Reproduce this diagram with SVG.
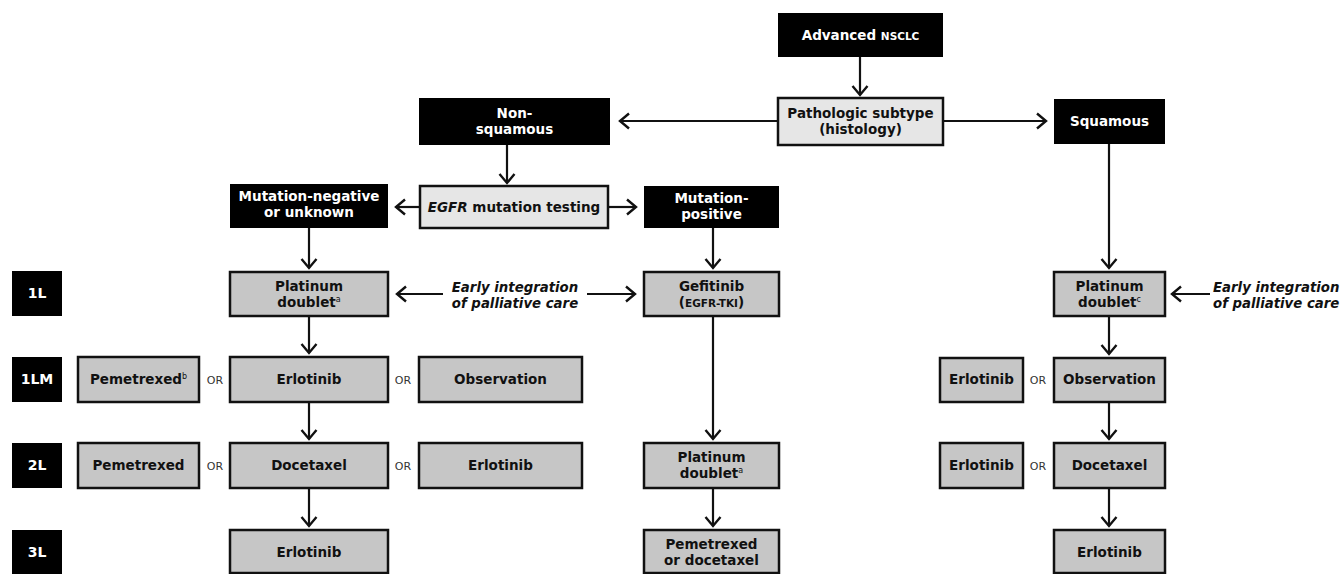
<svg xmlns="http://www.w3.org/2000/svg" width="1344" height="574" viewBox="0 0 1344 574">
<style>
.blk{fill:#000}
.lt{fill:#e6e6e6;stroke:#111;stroke-width:2.5}
.gr{fill:#c6c6c6;stroke:#111;stroke-width:2.5}
text{font-family:"DejaVu Sans","Verdana",sans-serif;font-weight:bold;font-size:13.5px;text-anchor:middle}
.w{fill:#fff}
.k{fill:#111}
.sc{font-size:10.5px}
.sup{font-size:8px;font-weight:normal}
.or{font-weight:normal;font-size:11px;fill:#333}
.it{font-style:italic;fill:#111;font-size:13.3px}
.lb{font-size:14px}
.ln{stroke:#111;stroke-width:2.2;fill:none}
</style>
<defs>
<marker id="ah" markerUnits="userSpaceOnUse" viewBox="-11 -10 13 20" refX="0" refY="0" markerWidth="13" markerHeight="20" orient="auto">
<path d="M-9,-7.5 L0,0 L-9,7.5" fill="none" stroke="#111" stroke-width="2.4"/>
</marker>
</defs>

<g id="connectors" class="ln" marker-end="url(#ah)">
<line x1="860" y1="57" x2="860" y2="95"/>
<line x1="778" y1="121" x2="620" y2="121"/>
<line x1="943" y1="121" x2="1046" y2="121"/>
<line x1="507" y1="145" x2="507" y2="183"/>
<line x1="420" y1="207" x2="396" y2="207"/>
<line x1="608" y1="207" x2="636" y2="207"/>
<line x1="309" y1="228" x2="309" y2="268"/>
<line x1="713" y1="228" x2="713" y2="268"/>
<line x1="1109" y1="144" x2="1109" y2="268"/>
<line x1="443" y1="294" x2="397" y2="294"/>
<line x1="587" y1="294" x2="635" y2="294"/>
<line x1="1210" y1="294" x2="1172" y2="294"/>
<line x1="309" y1="316" x2="309" y2="353"/>
<line x1="1109" y1="316" x2="1109" y2="354"/>
<line x1="309" y1="402" x2="309" y2="439"/>
<line x1="713" y1="316" x2="713" y2="439"/>
<line x1="1109" y1="402" x2="1109" y2="439"/>
<line x1="309" y1="488" x2="309" y2="526"/>
<line x1="713" y1="488" x2="713" y2="526"/>
<line x1="1109" y1="488" x2="1109" y2="526"/>
</g>

<g id="advanced"><rect class="blk" x="778" y="13" width="165" height="44"/><text class="w" x="860.5" y="40">Advanced <tspan class="sc">NSCLC</tspan></text></g>
<g id="pathologic"><rect class="lt" x="778" y="98" width="165" height="47"/><text class="k" x="860.5" y="118">Pathologic subtype</text><text class="k" x="860.5" y="134">(histology)</text></g>
<g id="nonsquamous"><rect class="blk" x="419" y="98" width="191" height="47"/><text class="w" x="514.5" y="118">Non-</text><text class="w" x="514.5" y="134">squamous</text></g>
<g id="squamous"><rect class="blk" x="1054" y="99" width="111" height="45"/><text class="w" x="1109.5" y="126">Squamous</text></g>
<g id="egfr"><rect class="lt" x="420" y="186" width="188" height="42"/><text class="k" x="514" y="212"><tspan font-style="italic">EGFR</tspan> mutation testing</text></g>
<g id="mutneg"><rect class="blk" x="230" y="184" width="158" height="44"/><text class="w" x="309" y="201">Mutation-negative</text><text class="w" x="309" y="217">or unknown</text></g>
<g id="mutpos"><rect class="blk" x="644" y="186" width="135" height="42"/><text class="w" x="711.5" y="203">Mutation-</text><text class="w" x="711.5" y="219">positive</text></g>

<g id="label-1L"><rect class="blk" x="12" y="271" width="50" height="45"/><text class="w lb" x="37" y="298">1L</text></g>
<g id="label-1LM"><rect class="blk" x="12" y="357" width="50" height="45"/><text class="w lb" x="37" y="384">1LM</text></g>
<g id="label-2L"><rect class="blk" x="12" y="443" width="50" height="45"/><text class="w lb" x="37" y="470">2L</text></g>
<g id="label-3L"><rect class="blk" x="12" y="530" width="50" height="44"/><text class="w lb" x="37" y="557">3L</text></g>

<g id="platinum-a"><rect class="gr" x="230" y="272" width="158" height="44"/><text class="k" x="309" y="291">Platinum</text><text class="k" x="309" y="307">doublet<tspan class="sup" dy="-5">a</tspan></text></g>
<g id="early-left"><text class="it" x="515" y="292">Early integration</text><text class="it" x="515" y="308">of palliative care</text></g>
<g id="gefitinib"><rect class="gr" x="644" y="272" width="135" height="44"/><text class="k" x="711.5" y="291">Gefitinib</text><text class="k" x="711.5" y="307">(<tspan class="sc">EGFR-TKI</tspan>)</text></g>
<g id="platinum-c"><rect class="gr" x="1054" y="272" width="111" height="44"/><text class="k" x="1109.5" y="291">Platinum</text><text class="k" x="1109.5" y="307">doublet<tspan class="sup" dy="-5">c</tspan></text></g>
<g id="early-right"><text class="it" x="1213" y="292" style="text-anchor:start">Early integration</text><text class="it" x="1213" y="308" style="text-anchor:start">of palliative care</text></g>

<g id="pemetrexed-1lm"><rect class="gr" x="78" y="357" width="121" height="45"/><text class="k" x="138.5" y="384">Pemetrexed<tspan class="sup" dy="-5">b</tspan></text></g>
<g id="or-1"><text class="or" x="215" y="384">OR</text></g>
<g id="erlotinib-1lm"><rect class="gr" x="230" y="357" width="158" height="45"/><text class="k" x="309" y="384">Erlotinib</text></g>
<g id="or-2"><text class="or" x="403" y="384">OR</text></g>
<g id="observation-1lm"><rect class="gr" x="419" y="357" width="163" height="45"/><text class="k" x="500.5" y="384">Observation</text></g>
<g id="erlotinib-1lm-r"><rect class="gr" x="940" y="358" width="83" height="44"/><text class="k" x="981.5" y="384">Erlotinib</text></g>
<g id="or-3"><text class="or" x="1038" y="384">OR</text></g>
<g id="observation-1lm-r"><rect class="gr" x="1054" y="358" width="111" height="44"/><text class="k" x="1109.5" y="384">Observation</text></g>

<g id="pemetrexed-2l"><rect class="gr" x="78" y="443" width="121" height="45"/><text class="k" x="138.5" y="470">Pemetrexed</text></g>
<g id="or-4"><text class="or" x="215" y="470">OR</text></g>
<g id="docetaxel-2l"><rect class="gr" x="230" y="443" width="158" height="45"/><text class="k" x="309" y="470">Docetaxel</text></g>
<g id="or-5"><text class="or" x="403" y="470">OR</text></g>
<g id="erlotinib-2l"><rect class="gr" x="419" y="443" width="163" height="45"/><text class="k" x="500.5" y="470">Erlotinib</text></g>
<g id="platinum-a-2l"><rect class="gr" x="644" y="443" width="135" height="45"/><text class="k" x="711.5" y="462">Platinum</text><text class="k" x="711.5" y="478">doublet<tspan class="sup" dy="-5">a</tspan></text></g>
<g id="erlotinib-2l-r"><rect class="gr" x="940" y="443" width="83" height="45"/><text class="k" x="981.5" y="470">Erlotinib</text></g>
<g id="or-6"><text class="or" x="1038" y="470">OR</text></g>
<g id="docetaxel-2l-r"><rect class="gr" x="1054" y="443" width="111" height="45"/><text class="k" x="1109.5" y="470">Docetaxel</text></g>

<g id="erlotinib-3l"><rect class="gr" x="230" y="530" width="158" height="43"/><text class="k" x="309" y="557">Erlotinib</text></g>
<g id="pemdoc-3l"><rect class="gr" x="644" y="530" width="135" height="43"/><text class="k" x="711.5" y="549">Pemetrexed</text><text class="k" x="711.5" y="565">or docetaxel</text></g>
<g id="erlotinib-3l-r"><rect class="gr" x="1054" y="530" width="111" height="43"/><text class="k" x="1109.5" y="557">Erlotinib</text></g>
</svg>
